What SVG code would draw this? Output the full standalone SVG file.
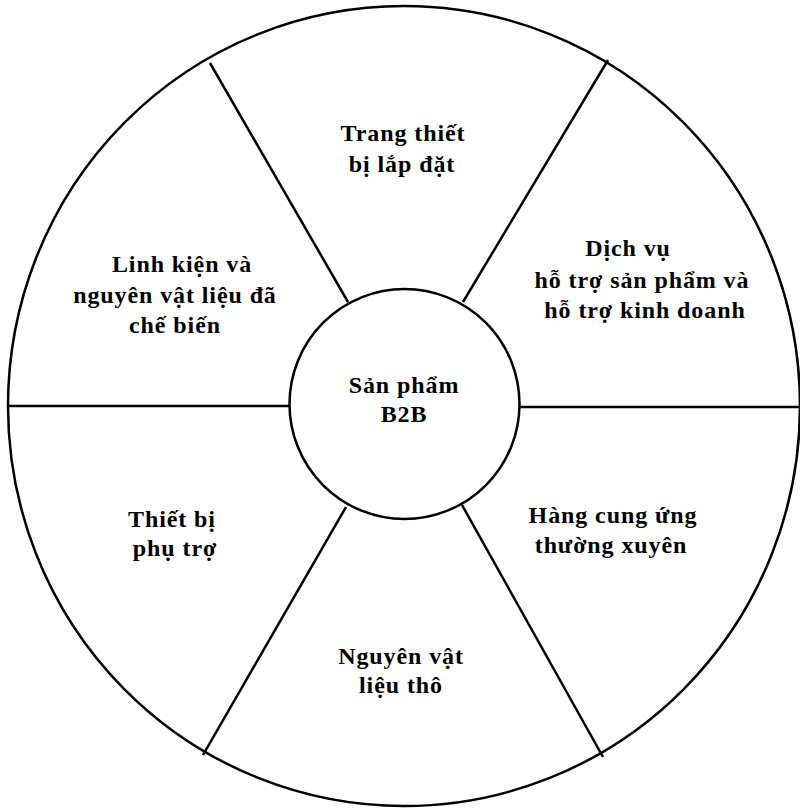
<svg xmlns="http://www.w3.org/2000/svg" width="800" height="809" viewBox="0 0 800 809">
<style>
.ln{stroke:#000;stroke-width:2.5;fill:none}
.t{font-family:"Liberation Serif","Times New Roman",serif;font-weight:bold;font-size:24px;fill:#000;text-anchor:middle;letter-spacing:0.9px}
</style>
<rect width="800" height="809" fill="#fff"/>
<g id="outer"><ellipse cx="404" cy="406" rx="396" ry="400" class="ln"/></g>
<g id="connectors">
<line x1="210" y1="63" x2="348" y2="302" class="ln"/>
<line x1="608" y1="60" x2="463" y2="302" class="ln"/>
<line x1="8" y1="406" x2="290" y2="406" class="ln"/>
<line x1="519" y1="407" x2="800" y2="407" class="ln"/>
<line x1="346" y1="507" x2="203" y2="755" class="ln"/>
<line x1="462" y1="505" x2="603" y2="757" class="ln"/>
</g>
<g id="center"><circle cx="404.5" cy="404" r="115" class="ln" fill="#fff"/>
<text class="t" x="404" y="393">Sản phẩm</text><text class="t" x="404" y="422">B2B</text></g>
<g id="top"><text class="t" x="403" y="141">Trang thiết</text><text class="t" x="402" y="172">bị lắp đặt</text></g>
<g id="topright"><text class="t" x="628" y="256">Dịch vụ</text><text class="t" x="642" y="288">hỗ trợ sản phẩm và</text><text class="t" x="645" y="318">hỗ trợ kinh doanh</text></g>
<g id="right"><text class="t" x="613" y="523">Hàng cung ứng</text><text class="t" x="611" y="553">thường xuyên</text></g>
<g id="bottom"><text class="t" x="401" y="664">Nguyên vật</text><text class="t" x="401" y="693">liệu thô</text></g>
<g id="left"><text class="t" x="172" y="527">Thiết bị</text><text class="t" x="175" y="556">phụ trợ</text></g>
<g id="topleft"><text class="t" x="182" y="272">Linh kiện và</text><text class="t" x="175" y="303">nguyên vật liệu đã</text><text class="t" x="175" y="333">chế biến</text></g>
</svg>
